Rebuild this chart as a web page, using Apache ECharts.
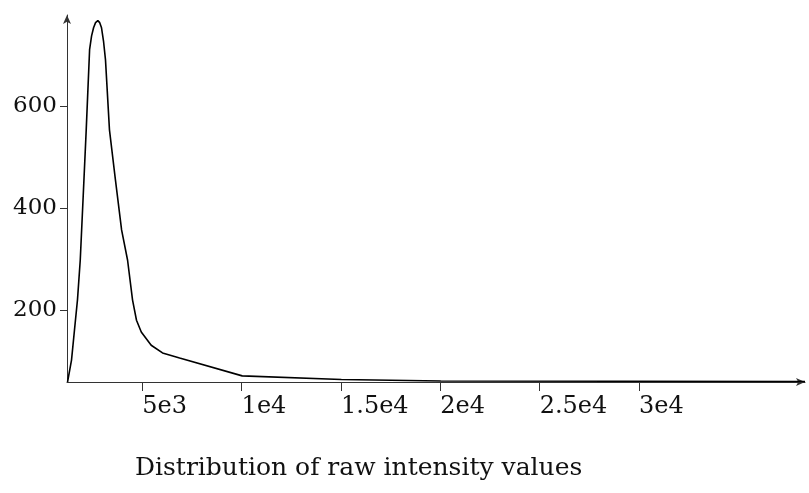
<!DOCTYPE html>
<html>
<head>
<meta charset="utf-8">
<script src="https://cdn.jsdelivr.net/npm/echarts@6/dist/echarts.min.js"></script>
<style>
html,body{margin:0;padding:0;background:#fff;}
#chart{width:809px;height:493px;}
</style>
</head>
<body>
<div id="chart"></div>
<script>
// Raw intensity (x) and count (y)
const intensity = [1240, 1440, 1590, 1740, 1880, 2030, 2180, 2350, 2450, 2550, 2650, 2765, 2860, 2950, 3050, 3150, 3350, 3650, 3960, 4260, 4510, 4710, 4950, 5450, 6020, 6880, 10030, 15020, 20020, 38350];
const counts    = [59, 102, 161, 220, 298, 425, 553, 710, 737, 753, 763, 767, 763, 753, 727, 690, 553, 455, 357, 298, 220, 180, 157, 131, 116, 106, 71, 64, 61, 60];
const xTicks = [5000, 10000, 15000, 20000, 25000, 30000];
const xTickLabels = ['5e3', '1e4', '1.5e4', '2e4', '2.5e4', '3e4'];
const yTicks = [200, 400, 600];
const yTickLabels = ['200', '400', '600'];
const titleText = 'Distribution of raw intensity values';

const points = intensity.map((x, i) => [x, counts[i]]);
const serif = 'DejaVu Serif';

const chart = echarts.init(document.getElementById('chart'), null, {renderer: 'canvas'});
chart.setOption({
  animation: false,
  backgroundColor: '#fff',
  title: {
    text: titleText,
    left: 130,
    top: 451,
    textStyle: {fontFamily: serif, fontSize: 25, fontWeight: 'normal', color: '#111'}
  },
  grid: {left: 67, right: 4, top: 15, bottom: 111, containLabel: false, outerBoundsMode: 'none'},
  xAxis: {
    type: 'value',
    min: 1213,
    max: 38350,
    splitLine: {show: false},
    axisLine: {show: true, onZero: false, symbol: ['none', 'arrow'], symbolSize: [6, 9], lineStyle: {color: '#333', width: 1}},
    axisTick: {show: true, length: 9, customValues: xTicks, lineStyle: {color: '#333'}},
    axisLabel: {
      customValues: xTicks,
      formatter: v => xTickLabels[xTicks.indexOf(v)],
      align: 'left',
      margin: 13,
      fontFamily: serif, fontSize: 24, color: '#111'
    }
  },
  yAxis: {
    type: 'value',
    min: 59,
    max: 778,
    splitLine: {show: false},
    axisLine: {show: true, onZero: false, symbol: ['none', 'arrow'], symbolSize: [6, 9], lineStyle: {color: '#333', width: 1}},
    axisTick: {show: true, length: 7, customValues: yTicks, lineStyle: {color: '#333'}},
    axisLabel: {
      customValues: yTicks,
      formatter: v => yTickLabels[yTicks.indexOf(v)],
      margin: 10,
      fontFamily: serif, fontSize: 23, color: '#111'
    }
  },
  series: [{
    type: 'line',
    data: points,
    showSymbol: false,
    symbol: 'none',
    smooth: false,
    lineStyle: {color: '#000', width: 1.6}
  }]
});
</script>
</body>
</html>
